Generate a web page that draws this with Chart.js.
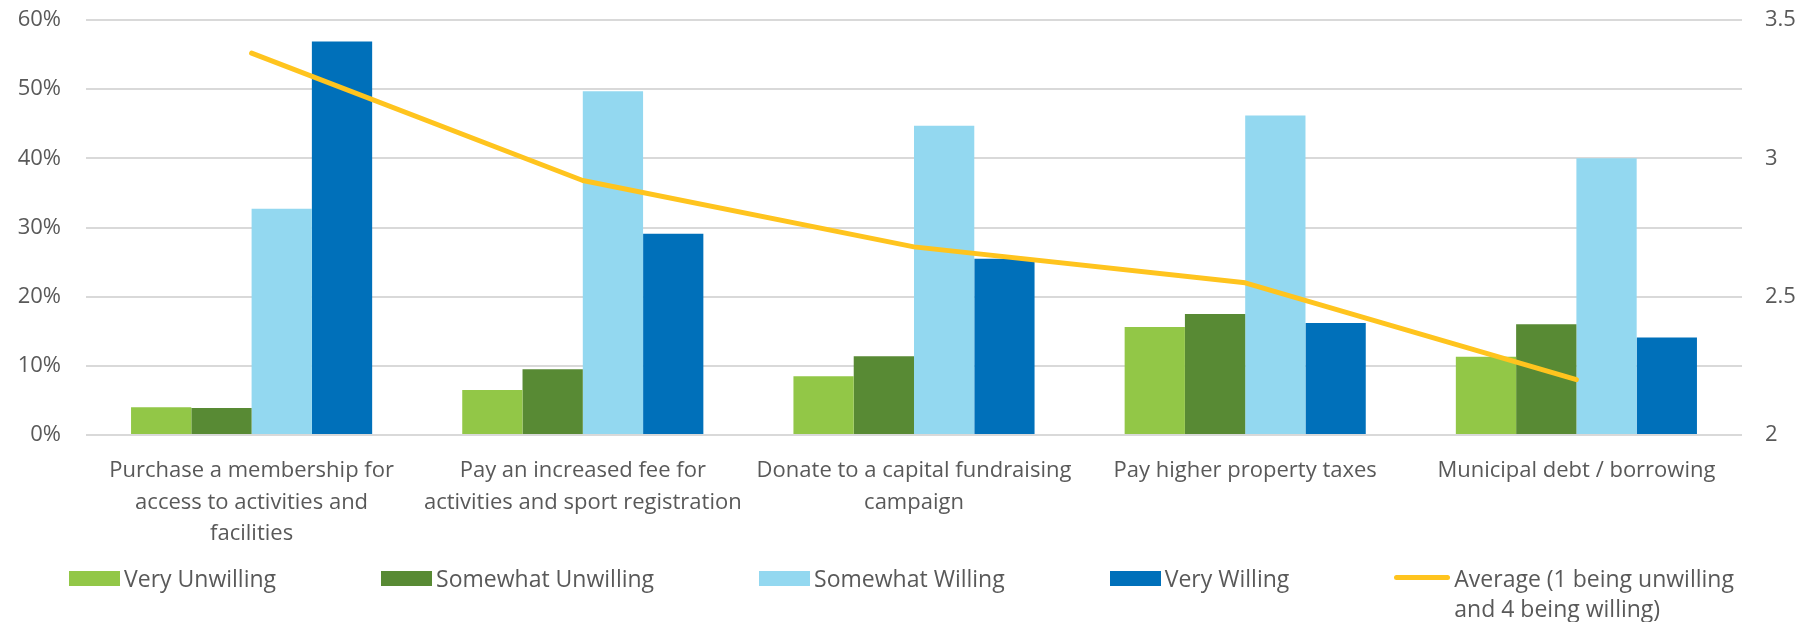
<!DOCTYPE html>
<html>
<head>
<meta charset="utf-8">
<script src="https://cdn.jsdelivr.net/npm/chart.js@4.4.1/dist/chart.umd.min.js"></script>
<style>
  html, body { margin: 0; padding: 0; background: #fff; }
  #wrap { width: 1817px; height: 622px; position: relative; }
  #legend {
    position: absolute; left: 69px; top: 563px;
    display: flex; align-items: flex-start; gap: 105px;
    font-family: 'Open Sans', sans-serif; font-size: 23px; line-height: 30px; color: #595959;
  }
  .legend-item { display: flex; align-items: flex-start; }
  .mark { display: inline-block; flex: none; margin-right: 4px; }
  .mark.box { width: 51px; height: 15px; margin-top: 8px; }
  .mark.line { width: 56px; height: 5px; margin-top: 12px; border-radius: 3px; }
</style>
</head>
<body>
<div id="wrap">
  <canvas id="willingChart"></canvas>
  <div id="legend"></div>
</div>
<script>
const categories = [
  ['Purchase a membership for', 'access to activities and', 'facilities'],
  ['Pay an increased fee for', 'activities and sport registration'],
  ['Donate to a capital fundraising', 'campaign'],
  'Pay higher property taxes',
  'Municipal debt / borrowing'
];
const veryUnwilling = [4.0, 6.5, 8.5, 15.6, 11.3];
const somewhatUnwilling = [3.9, 9.5, 11.4, 17.5, 16.0];
const somewhatWilling = [32.7, 49.7, 44.7, 46.2, 40.0];
const veryWilling = [56.9, 29.1, 25.5, 16.2, 14.1];
const averageScore = [3.38, 2.92, 2.68, 2.55, 2.20];

const FONT = 'Open Sans';
const textColor = '#595959';

// y axes: fixed widths, no extra vertical padding for the end labels
function fixAxis(width) {
  return scale => {
    scale.width = width;
    scale.paddingTop = 0;
    scale.paddingBottom = 0;
  };
}

const ctx = document.getElementById('willingChart').getContext('2d');
const chart = new Chart(ctx, {
  type: 'bar',
  data: {
    labels: categories,
    datasets: [
      { label: 'Very Unwilling', data: veryUnwilling, backgroundColor: '#92C747', yAxisID: 'y', order: 1 },
      { label: 'Somewhat Unwilling', data: somewhatUnwilling, backgroundColor: '#588A34', yAxisID: 'y', order: 1 },
      { label: 'Somewhat Willing', data: somewhatWilling, backgroundColor: '#93D8F0', yAxisID: 'y', order: 1 },
      { label: 'Very Willing', data: veryWilling, backgroundColor: '#0070BA', yAxisID: 'y', order: 1 },
      {
        type: 'line',
        label: ['Average (1 being unwilling', 'and 4 being willing)'],
        data: averageScore,
        yAxisID: 'y2',
        borderColor: '#FFC41E',
        backgroundColor: '#FFC41E',
        borderWidth: 5,
        borderCapStyle: 'round',
        borderJoinStyle: 'round',
        pointRadius: 0,
        tension: 0,
        order: 0
      }
    ]
  },
  options: {
    responsive: true,
    maintainAspectRatio: false,
    animation: false,
    datasets: {
      bar: { categoryPercentage: 0.728, barPercentage: 1.0 }
    },
    layout: { padding: { top: 20, left: 0, right: 0, bottom: 72 } },
    plugins: {
      tooltip: { enabled: false },
      legend: { display: false }
    },
    scales: {
      x: {
        grid: { display: false, drawTicks: false },
        border: { display: false },
        ticks: {
          color: textColor,
          font: { family: FONT, size: 22, lineHeight: 1.436 },
          padding: 20,
          maxRotation: 0,
          autoSkip: false
        },
        afterFit(scale) { scale.height = 115; }
      },
      y: {
        position: 'left',
        min: 0,
        max: 60,
        ticks: {
          stepSize: 10,
          padding: 25,
          color: textColor,
          font: { family: FONT, size: 22 },
          callback: v => v + '%'
        },
        grid: { color: '#D9D9D9', lineWidth: 2, drawTicks: false },
        border: { display: false },
        afterFit: fixAxis(86)
      },
      y2: {
        position: 'right',
        min: 2,
        max: 3.5,
        ticks: {
          stepSize: 0.5,
          padding: 23,
          color: textColor,
          font: { family: FONT, size: 22 },
          callback: v => String(v)
        },
        grid: { display: false, drawTicks: false },
        border: { display: false },
        afterFit: fixAxis(75)
      }
    }
  }
});

// html legend built from the datasets
const legendEl = document.getElementById('legend');
chart.data.datasets.forEach(ds => {
  const item = document.createElement('div');
  item.className = 'legend-item';
  const mark = document.createElement('span');
  const isLine = ds.type === 'line';
  mark.className = isLine ? 'mark line' : 'mark box';
  mark.style.background = isLine ? ds.borderColor : ds.backgroundColor;
  const text = document.createElement('span');
  [].concat(ds.label).forEach((line, i) => {
    if (i > 0) text.appendChild(document.createElement('br'));
    text.appendChild(document.createTextNode(line));
  });
  item.appendChild(mark);
  item.appendChild(text);
  legendEl.appendChild(item);
});
</script>
</body>
</html>
